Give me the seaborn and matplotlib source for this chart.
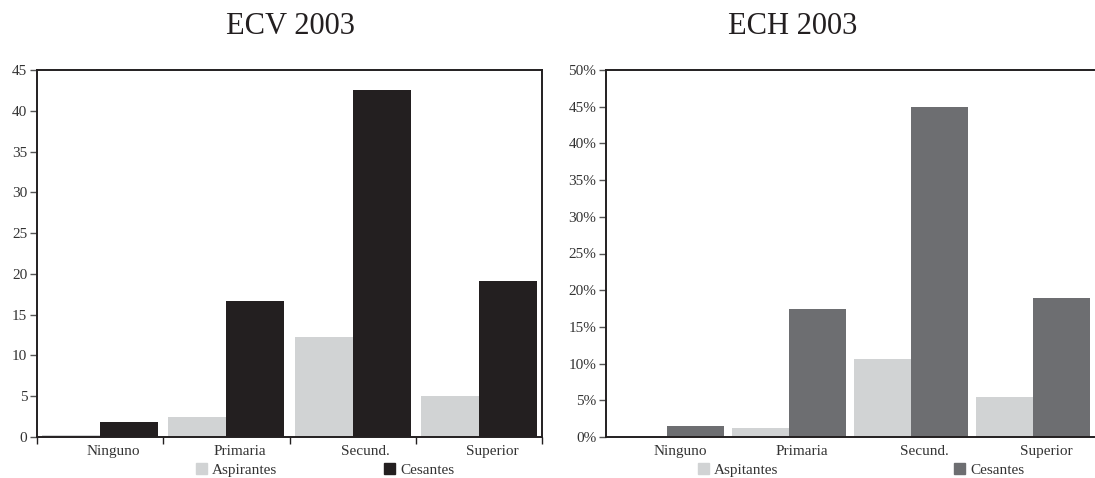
import pandas as pd
import numpy as np
import matplotlib
matplotlib.use('Agg')
import matplotlib.pyplot as plt
import matplotlib.transforms as mtransforms
from matplotlib.patches import Patch
from matplotlib.ticker import FuncFormatter
import seaborn as sns

# Данные
niveles = ['Ninguno', 'Primaria', 'Secund.', 'Superior']
ecv_aspirantes = [0.2, 2.5, 12.3, 5.0]
ecv_cesantes = [1.9, 16.7, 42.6, 19.1]
ech_aspirantes = [0.0, 1.2, 10.6, 5.4]
ech_cesantes = [1.5, 17.4, 45.0, 18.9]

sns.set_style('white')
plt.rcParams['font.family'] = ['Liberation Serif', 'DejaVu Serif']

def to_long(asp, ces, asp_label):
    return pd.DataFrame({
        'nivel': niveles * 2,
        'valor': asp + ces,
        'grupo': [asp_label] * 4 + ['Cesantes'] * 4,
    })

df_ecv = to_long(ecv_aspirantes, ecv_cesantes, 'Aspirantes')
df_ech = to_long(ech_aspirantes, ech_cesantes, 'Aspitantes')

fig = plt.figure(figsize=(10.95, 4.78), dpi=100)
ax1 = fig.add_axes([37/1095, 41/478, 505/1095, 367/478])
ax2 = fig.add_axes([606/1095, 41/478, 488/1095, 367/478])

gris_claro = '#d1d3d4'
negro = '#231f20'
gris_osc = '#6d6e71'
texto = '#333333'

sns.barplot(data=df_ecv, x='nivel', y='valor', hue='grupo', ax=ax1,
            palette=[gris_claro, negro], width=0.92, saturation=1,
            edgecolor='none', linewidth=0, legend=False)
sns.barplot(data=df_ech, x='nivel', y='valor', hue='grupo', ax=ax2,
            palette=[gris_claro, gris_osc], width=0.93, saturation=1,
            edgecolor='none', linewidth=0, legend=False)

offset = mtransforms.ScaledTranslation(13/100, 0, fig.dpi_scale_trans)

for ax, ymax in [(ax1, 45), (ax2, 50)]:
    ax.set_xlim(-0.5, 3.5)
    ax.set_ylim(0, ymax)
    ax.set_yticks(np.arange(0, ymax + 1, 5))
    ax.set_xlabel('')
    ax.set_ylabel('')
    for s in ax.spines.values():
        s.set_color('#231f20')
        s.set_linewidth(1.4)
    ax.tick_params(axis='y', direction='out', length=5, width=1, color='#555555',
                   labelsize=11, labelcolor=texto, pad=2, left=True)
    ax.set_xticks(range(4))
    ax.set_xticklabels(niveles)
    ax.tick_params(axis='x', which='major', length=0, labelsize=11,
                   labelcolor=texto, pad=6)
    for lab in ax.get_xticklabels():
        lab.set_transform(lab.get_transform() + offset)

# ticks de separación solo en el gráfico izquierdo
ax1.set_xticks([-0.5, 0.5, 1.5, 2.5, 3.5], minor=True)
ax1.tick_params(axis='x', which='minor', direction='out', length=5, width=1,
                color='#231f20', bottom=True)
ax1.spines['right'].set_clip_on(False)

ax2.spines['right'].set_visible(False)
ax2.yaxis.set_major_formatter(FuncFormatter(lambda v, p: f'{int(v)}%'))

# leyendas
ax1.legend(handles=[Patch(color=gris_claro, label='Aspirantes'),
                    Patch(color=negro, label='Cesantes')],
           loc='center', bbox_to_anchor=(325/1095, 8/478),
           bbox_transform=fig.transFigure, ncol=2, frameon=False,
           fontsize=11, handlelength=0.75, handleheight=0.75,
           handletextpad=0.3, columnspacing=7.0, labelcolor=texto,
           borderpad=0, borderaxespad=0)
ax2.legend(handles=[Patch(color=gris_claro, label='Aspitantes'),
                    Patch(color=gris_osc, label='Cesantes')],
           loc='center', bbox_to_anchor=(861/1095, 8/478),
           bbox_transform=fig.transFigure, ncol=2, frameon=False,
           fontsize=11, handlelength=0.75, handleheight=0.75,
           handletextpad=0.3, columnspacing=11.5, labelcolor=texto,
           borderpad=0, borderaxespad=0)

fig.text(290/1095, 1 - 26/478, 'ECV 2003', ha='center', va='center',
         fontsize=22, color='#231f20')
fig.text(793/1095, 1 - 26/478, 'ECH 2003', ha='center', va='center',
         fontsize=22, color='#231f20')

fig.savefig('out.png', dpi=100)
